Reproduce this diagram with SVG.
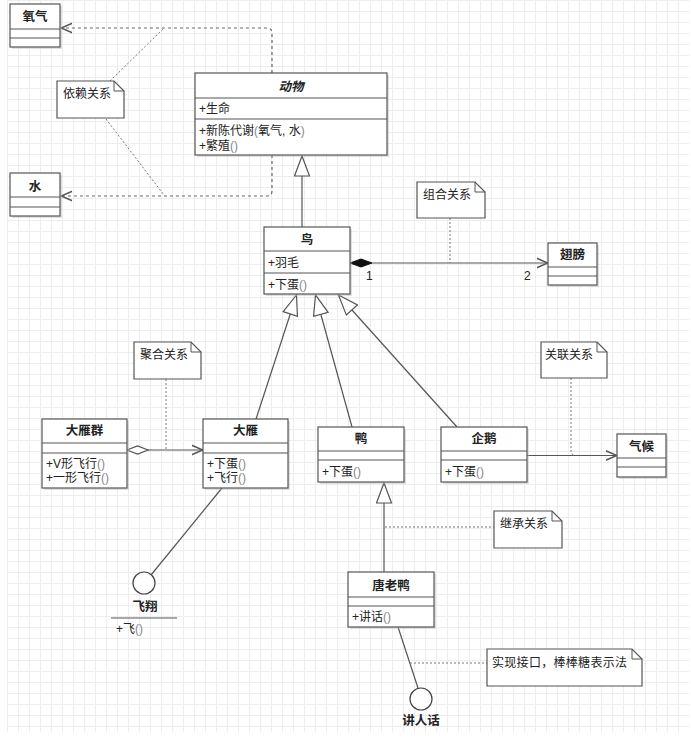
<svg xmlns="http://www.w3.org/2000/svg" width="691" height="739" viewBox="0 0 691 739">
<style>
text{font-family:"Liberation Sans","Noto Sans CJK SC",sans-serif;font-size:12px;fill:#222}
.ttl{font-size:12.5px;font-weight:bold;text-anchor:middle}
.it{font-style:italic}
.gp{fill:#888}
.box{fill:#fff;stroke:#555;stroke-width:1.2}
.sh{fill:#bbb;opacity:.45}
.sep{stroke:#555;stroke-width:1.2}
.note{fill:#fff;stroke:#555;stroke-width:1.2}
.fold{fill:none;stroke:#555;stroke-width:1}
.ln{fill:none;stroke:#555;stroke-width:1.2}
.dep{fill:none;stroke:#666;stroke-width:1.2;stroke-dasharray:3,3}
.nl{fill:none;stroke:#777;stroke-width:1;stroke-dasharray:2,2}
.gen{fill:none;stroke:#555;stroke-width:1.2;marker-end:url(#tri)}
.asc{fill:none;stroke:#555;stroke-width:1.2;marker-end:url(#open)}
.lol{fill:#fff;stroke:#444;stroke-width:1.2}
</style>
<defs>
<pattern id="grid" width="11" height="11" patternUnits="userSpaceOnUse" x="7" y="0">
<path d="M0,0.5 H11 M0.5,0 V11" fill="none" stroke="#ededed" stroke-width="1"/>
</pattern>
<marker id="open" markerUnits="userSpaceOnUse" markerWidth="12" markerHeight="12" viewBox="0 0 10 10" refX="9.5" refY="5" orient="auto">
<path d="M0,1 L9.5,5 L0,9" fill="none" stroke="#555" stroke-width="1.2"/>
</marker>
<marker id="tri" markerUnits="userSpaceOnUse" markerWidth="22" markerHeight="17" viewBox="0 0 22 17" refX="21" refY="8.5" orient="auto">
<path d="M1,1 L21,8.5 L1,16 Z" fill="#fff" stroke="#555" stroke-width="1.2"/>
</marker>
</defs>
<rect x="0" y="0" width="691" height="739" fill="#fff"/>
<rect x="7" y="0" width="682" height="732" fill="url(#grid)"/>

<g id="connectors">
<path class="dep" d="M272,73 V33 Q272,28 267,28 H61" marker-end="url(#open)"/>
<path class="dep" d="M272,155 V191 Q272,196 267,196 H61" marker-end="url(#open)"/>
<path class="nl" d="M110,81 L164,28"/>
<path class="nl" d="M106,119 L164,195"/>
<path class="gen" d="M302,227 V156"/>
<path class="gen" d="M256,419 L296.5,295"/>
<path class="gen" d="M352,427 L315.5,295"/>
<path class="gen" d="M457,427 L338.5,295"/>
<path class="gen" d="M384,572 V483"/>
<path class="asc" d="M372,263 H548"/>
<polygon points="350,263 361,259 372,263 361,267" fill="#111" stroke="#111" stroke-width="1"/>
<text x="366" y="280">1</text>
<text x="524" y="280">2</text>
<path class="nl" d="M450,218 V263"/>
<path class="asc" d="M148,450 H203"/>
<polygon points="127,450 137.5,446 148,450 137.5,454" fill="#fff" stroke="#555" stroke-width="1.2"/>
<path class="nl" d="M166,379 V449"/>
<path class="asc" d="M527,455.5 H617"/>
<path class="nl" d="M571,378 V453 L574,455.5"/>
<path class="nl" d="M385,527 H494"/>
<path class="ln" d="M222,488 L151,575"/>
<path class="ln" d="M398,627 L418,688"/>
<path class="nl" d="M410,663 H487"/>
</g>

<g id="oxygen">
<rect class="sh" x="12" y="6" width="50" height="43"/>
<rect class="box" x="10" y="4" width="50" height="43"/>
<line class="sep" x1="10" y1="29" x2="60" y2="29"/><line class="sep" x1="10" y1="38" x2="60" y2="38"/>
<text class="ttl" x="35" y="21">氧气</text>
</g>
<g id="water">
<rect class="sh" x="12" y="175" width="50" height="43"/>
<rect class="box" x="10" y="173" width="50" height="43"/>
<line class="sep" x1="10" y1="197" x2="60" y2="197"/><line class="sep" x1="10" y1="207" x2="60" y2="207"/>
<text class="ttl" x="35" y="191">水</text>
</g>
<g id="note-dep">
<path class="note" d="M57,81 H114 L124,91 V118 H57 Z"/>
<path class="fold" d="M114,81 V91 H124"/>
<text x="63" y="98">依赖关系</text>
</g>
<g id="animal">
<rect class="sh" x="197" y="75" width="192" height="82"/>
<rect class="box" x="195" y="73" width="192" height="82"/>
<line class="sep" x1="195" y1="98" x2="387" y2="98"/><line class="sep" x1="195" y1="119" x2="387" y2="119"/>
<text class="ttl it" x="291" y="91">动物</text>
<text x="199" y="113">+生命</text>
<text x="199" y="135">+新陈代谢<tspan class="gp">(</tspan>氧气, 水<tspan class="gp">)</tspan></text>
<text x="199" y="150">+繁殖<tspan class="gp">()</tspan></text>
</g>
<g id="bird">
<rect class="sh" x="266" y="229" width="86" height="67"/>
<rect class="box" x="264" y="227" width="86" height="67"/>
<line class="sep" x1="264" y1="251" x2="350" y2="251"/><line class="sep" x1="264" y1="273" x2="350" y2="273"/>
<text class="ttl" x="307" y="244">鸟</text>
<text x="268" y="267">+羽毛</text>
<text x="268" y="289">+下蛋<tspan class="gp">()</tspan></text>
</g>
<g id="note-comp">
<path class="note" d="M417,182 H475 L485,192 V218 H417 Z"/>
<path class="fold" d="M475,182 V192 H485"/>
<text x="423" y="199">组合关系</text>
</g>
<g id="wing">
<rect class="sh" x="550" y="245" width="49" height="42"/>
<rect class="box" x="548" y="243" width="49" height="42"/>
<line class="sep" x1="548" y1="267" x2="597" y2="267"/><line class="sep" x1="548" y1="276" x2="597" y2="276"/>
<text class="ttl" x="572.5" y="259">翅膀</text>
</g>
<g id="note-aggr">
<path class="note" d="M134,342 H191 L201,352 V379 H134 Z"/>
<path class="fold" d="M191,342 V352 H201"/>
<text x="140" y="359">聚合关系</text>
</g>
<g id="goose-flock">
<rect class="sh" x="44" y="421" width="85" height="69"/>
<rect class="box" x="42" y="419" width="85" height="69"/>
<line class="sep" x1="42" y1="443" x2="127" y2="443"/><line class="sep" x1="42" y1="453" x2="127" y2="453"/>
<text class="ttl" x="84.5" y="435">大雁群</text>
<text x="46" y="468">+V形飞行<tspan class="gp">()</tspan></text>
<text x="46" y="482">+一形飞行<tspan class="gp">()</tspan></text>
</g>
<g id="goose">
<rect class="sh" x="205" y="421" width="85" height="69"/>
<rect class="box" x="203" y="419" width="85" height="69"/>
<line class="sep" x1="203" y1="443" x2="288" y2="443"/><line class="sep" x1="203" y1="453" x2="288" y2="453"/>
<text class="ttl" x="245.5" y="435">大雁</text>
<text x="207" y="468">+下蛋<tspan class="gp">()</tspan></text>
<text x="207" y="482">+飞行<tspan class="gp">()</tspan></text>
</g>
<g id="duck">
<rect class="sh" x="320" y="429" width="86" height="55"/>
<rect class="box" x="318" y="427" width="86" height="55"/>
<line class="sep" x1="318" y1="451" x2="404" y2="451"/><line class="sep" x1="318" y1="460" x2="404" y2="460"/>
<text class="ttl" x="361" y="443">鸭</text>
<text x="322" y="476">+下蛋<tspan class="gp">()</tspan></text>
</g>
<g id="penguin">
<rect class="sh" x="443" y="429" width="86" height="55"/>
<rect class="box" x="441" y="427" width="86" height="55"/>
<line class="sep" x1="441" y1="451" x2="527" y2="451"/><line class="sep" x1="441" y1="460" x2="527" y2="460"/>
<text class="ttl" x="484" y="443">企鹅</text>
<text x="445" y="476">+下蛋<tspan class="gp">()</tspan></text>
</g>
<g id="note-assoc">
<path class="note" d="M541,342 H597 L607,352 V378 H541 Z"/>
<path class="fold" d="M597,342 V352 H607"/>
<text x="545" y="359">关联关系</text>
</g>
<g id="climate">
<rect class="sh" x="619" y="436" width="49" height="43"/>
<rect class="box" x="617" y="434" width="49" height="43"/>
<line class="sep" x1="617" y1="458" x2="666" y2="458"/><line class="sep" x1="617" y1="467" x2="666" y2="467"/>
<text class="ttl" x="641.5" y="451">气候</text>
</g>
<g id="note-inherit">
<path class="note" d="M494,511 H552 L562,521 V548 H494 Z"/>
<path class="fold" d="M552,511 V521 H562"/>
<text x="500" y="528">继承关系</text>
</g>
<g id="donald">
<rect class="sh" x="350" y="574" width="86" height="55"/>
<rect class="box" x="348" y="572" width="86" height="55"/>
<line class="sep" x1="348" y1="597" x2="434" y2="597"/><line class="sep" x1="348" y1="606" x2="434" y2="606"/>
<text class="ttl" x="391" y="590">唐老鸭</text>
<text x="352" y="621">+讲话<tspan class="gp">()</tspan></text>
</g>
<g id="fly-interface">
<circle class="lol" cx="144" cy="583" r="11"/>
<text class="ttl" x="145" y="611">飞翔</text>
<line x1="111" y1="618" x2="177" y2="618" stroke="#555" stroke-width="1.2"/>
<text x="116" y="633">+飞<tspan class="gp">()</tspan></text>
</g>
<g id="speak-interface">
<circle class="lol" cx="421" cy="699" r="11"/>
<text class="ttl" x="421" y="725">讲人话</text>
</g>
<g id="note-realize">
<path class="note" d="M487,649 H632 L642,659 V686 H487 Z"/>
<path class="fold" d="M632,649 V659 H642"/>
<text x="492" y="667" letter-spacing="0.3">实现接口，棒棒糖表示法</text>
</g>
</svg>
